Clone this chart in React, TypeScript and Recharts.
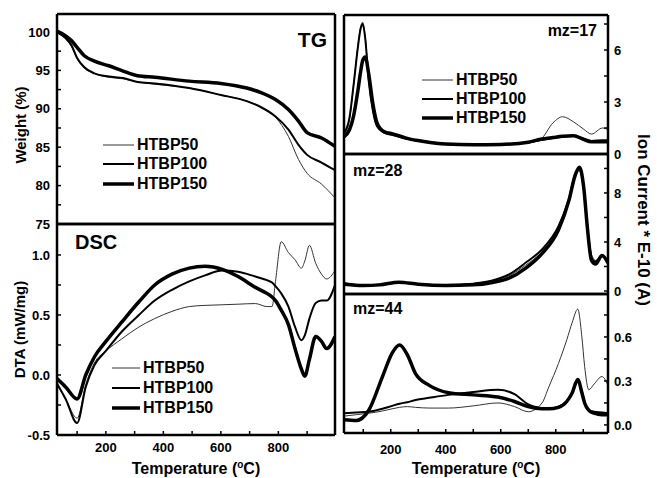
import React from 'react';
import { LineChart, Line, XAxis, YAxis, Legend } from 'recharts';

const W = 657;
const H = 478;
const FONT = '"Liberation Sans", Arial, sans-serif';

// TG panel (weight %)
const tgTemps = [30, 60, 80, 100, 125, 160, 210, 260, 310, 370, 490, 600, 690, 740, 790, 835, 870, 900, 950, 997];
const tg50 = [100.0, 99.1, 98.1, 96.5, 95.3, 94.6, 94.1, 93.9, 93.5, 93.2, 92.7, 91.8, 91.0, 90.2, 88.9, 86.4, 83.4, 81.6, 80.2, 78.4];
const tg100 = [100.0, 99.2, 98.3, 96.6, 95.4, 94.6, 94.2, 94.0, 93.5, 93.3, 92.7, 91.8, 91.0, 90.2, 89.0, 87.3, 85.3, 84.0, 83.0, 82.0];
const tg150 = [100.1, 99.5, 98.9, 98.0, 96.9, 96.2, 95.6, 94.9, 94.3, 94.1, 93.6, 93.3, 92.7, 92.1, 91.2, 89.9, 88.4, 86.9, 86.2, 85.1];

// DSC panel (mW/mg)
const dscTemps = [30, 60, 100, 130, 160, 200, 255, 315, 370, 430, 490, 545, 605, 660, 720, 760, 778, 790, 810, 835, 858, 880, 892, 908, 930, 950, 968, 997];
const dsc50 = [-0.08, -0.2, -0.36, -0.08, 0.1, 0.2, 0.3, 0.4, 0.47, 0.53, 0.57, 0.58, 0.585, 0.59, 0.595, 0.57, 0.57, 0.78, 1.11, 1.02, 0.96, 0.89, 0.95, 1.08, 0.93, 0.84, 0.8, 0.87];
const dsc100 = [-0.07, -0.2, -0.4, -0.1, 0.08, 0.2, 0.36, 0.5, 0.62, 0.71, 0.78, 0.83, 0.87, 0.86, 0.82, 0.79, 0.77, 0.74, 0.68, 0.57, 0.4, 0.29, 0.33, 0.47, 0.6, 0.62, 0.62, 0.75];
const dsc150 = [-0.03, -0.1, -0.2, 0.0, 0.15, 0.28, 0.44, 0.61, 0.75, 0.84, 0.89, 0.905, 0.88, 0.82, 0.73, 0.68, 0.65, 0.62, 0.54, 0.42, 0.22, 0.05, -0.01, 0.13, 0.32, 0.28, 0.22, 0.32];

// mz=17
const m17Temps = [30, 50, 65, 80, 90, 98, 107, 120, 135, 150, 175, 210, 260, 320, 400, 500, 600, 700, 745, 790, 825, 865, 900, 930, 970, 990];
const m17a = [1.1, 2.0, 4.0, 6.2, 7.3, 7.6, 6.8, 4.3, 2.5, 1.6, 1.2, 1.05, 0.85, 0.7, 0.57, 0.53, 0.55, 0.65, 0.85, 1.8, 2.15, 1.85, 1.45, 1.15, 1.5, 1.4];
const m17b = [1.2, 2.1, 4.0, 6.1, 7.2, 7.5, 6.7, 4.2, 2.5, 1.6, 1.25, 1.1, 0.88, 0.72, 0.58, 0.53, 0.55, 0.66, 0.8, 0.92, 1.0, 1.05, 0.9, 0.75, 0.8, 0.8];
const m17c = [1.0, 1.4, 2.2, 3.6, 4.7, 5.4, 5.6, 4.6, 2.9, 1.8, 1.3, 1.15, 0.9, 0.72, 0.57, 0.53, 0.55, 0.68, 0.85, 0.95, 1.02, 1.05, 0.85, 0.7, 0.7, 0.7];

// mz=28
const m28Temps = [30, 100, 160, 230, 300, 400, 500, 570, 630, 690, 750, 810, 848, 870, 886, 902, 914, 930, 945, 968, 990];
const m28a = [0.7, 0.5, 0.55, 0.7, 0.55, 0.48, 0.6, 0.85, 1.25, 2.1, 3.2, 5.1, 7.3, 9.3, 9.8, 8.2, 5.6, 3.0, 2.5, 2.8, 2.1];
const m28b = [0.6, 0.45, 0.5, 0.7, 0.55, 0.48, 0.6, 0.85, 1.35, 2.3, 3.4, 5.3, 7.5, 9.5, 10.0, 8.3, 5.5, 2.7, 2.4, 2.9, 2.4];
const m28c = [0.55, 0.45, 0.5, 0.72, 0.55, 0.45, 0.5, 0.7, 1.05, 1.85, 3.05, 5.0, 7.4, 9.4, 10.1, 8.4, 5.4, 2.5, 2.2, 2.9, 2.3];

// mz=44
const m44Temps = [30, 75, 120, 170, 205, 232, 260, 290, 340, 410, 500, 590, 650, 700, 750, 775, 810, 840, 860, 880, 895, 905, 920, 940, 968, 990];
const m44a = [0.06, 0.07, 0.08, 0.095, 0.11, 0.12, 0.125, 0.12, 0.115, 0.115, 0.13, 0.15, 0.125, 0.09, 0.15, 0.26, 0.42, 0.58, 0.7, 0.79, 0.6, 0.4, 0.24, 0.28, 0.33, 0.27];
const m44b = [0.08, 0.085, 0.09, 0.11, 0.13, 0.145, 0.155, 0.17, 0.185, 0.205, 0.225, 0.24, 0.21, 0.14, 0.115, 0.11, 0.125, 0.16, 0.22, 0.3, 0.23, 0.15, 0.1, 0.09, 0.085, 0.08];
const m44c = [0.035, 0.03, 0.1, 0.33, 0.49, 0.545, 0.48, 0.35, 0.27, 0.22, 0.205, 0.19, 0.16, 0.125, 0.11, 0.11, 0.12, 0.16, 0.22, 0.31, 0.22, 0.15, 0.1, 0.08, 0.07, 0.07];

const xTicks = [100, 200, 300, 400, 500, 600, 700, 800, 900];

const SERIES = [
  { key: 'a', name: 'HTBP50', width: 1, color: '#333' },
  { key: 'b', name: 'HTBP100', width: 2, color: '#000' },
  { key: 'c', name: 'HTBP150', width: 3.5, color: '#000' },
];

const toRows = (t: number[], a: number[], b: number[], c: number[]) =>
  t.map((x, i) => ({ t: x, a: a[i], b: b[i], c: c[i] }));

const isMult = (v: number, step: number) => Math.abs(v / step - Math.round(v / step)) < 1e-6;

const axisLine = { stroke: '#000', strokeWidth: 2.5 };
const tickLine = { stroke: '#000', strokeWidth: 1.5 };
const tickText = { fill: '#000', fontSize: 13, fontWeight: 700, fontFamily: FONT };
const textStyle: React.CSSProperties = { fontFamily: FONT, fontWeight: 700, fill: '#000' };

const legendContent = (lineLen: number, rowH: number) => (props: any) => {
  const items = [...(props.payload || [])].sort(
    (p: any, q: any) => SERIES.findIndex((s) => s.name === p.value) - SERIES.findIndex((s) => s.name === q.value)
  );
  return (
    <div>
      {items.map((p: any) => {
        const s = SERIES.find((x) => x.name === p.value) || SERIES[0];
        return (
          <div key={p.value} style={{ display: 'flex', alignItems: 'center', height: rowH }}>
            <svg width={lineLen} height={8}>
              <line x1={0} y1={4} x2={lineLen} y2={4} stroke={s.color} strokeWidth={s.width} />
            </svg>
            <span style={{ marginLeft: 3, fontFamily: FONT, fontWeight: 700, fontSize: 16, lineHeight: 1, color: '#000' }}>
              {p.value}
            </span>
          </div>
        );
      })}
    </div>
  );
};

const yTitle = (text: string, cx: number, angle: number, dy: number, size: number) => (p: any) => {
  const vb = p.viewBox;
  const cy = vb.y + vb.height / 2 + dy;
  return (
    <text x={cx} y={cy} transform={`rotate(${angle} ${cx} ${cy})`} textAnchor="middle" dominantBaseline="central" fontSize={size} style={textStyle}>
      {text}
    </text>
  );
};

const xTitle = (p: any) => {
  const vb = p.viewBox;
  const cx = vb.x + vb.width / 2;
  return (
    <text x={cx} y={474} textAnchor="middle" fontSize={16} style={textStyle}>
      <tspan>Temperature (</tspan>
      <tspan dy={-6} fontSize={10}>o</tspan>
      <tspan dy={6}>C)</tspan>
    </text>
  );
};

type PanelProps = {
  rows: any[];
  rect: { l: number; r: number; t: number; b: number };
  xDomain: [number, number];
  yDomain: [number, number];
  yTicks: number[];
  yFmt: (v: number) => string;
  side: 'left' | 'right';
  xLabels?: boolean;
  xMargin?: number;
  topTicks?: boolean;
  legend?: { left: number; top: number; len: number; rowH: number };
  yLabel?: (p: any) => React.ReactNode;
};

// axes are 1px thick boxes so that the plot area sits exactly on rect
const Panel = ({ rows, rect, xDomain, yDomain, yTicks, yFmt, side, xLabels, xMargin, topTicks, legend, yLabel }: PanelProps) => (
  <div style={{ position: 'absolute', left: 0, top: 0 }}>
    <LineChart
      width={W}
      height={H}
      data={rows}
      margin={{ top: rect.t - 1, left: rect.l - 1, right: W - rect.r - 1, bottom: H - rect.b - 1 }}
    >
      <XAxis
        xAxisId="b"
        dataKey="t"
        type="number"
        orientation="bottom"
        domain={xDomain}
        allowDataOverflow
        height={1}
        ticks={xTicks}
        interval={0}
        tickSize={-4}
        tickMargin={xMargin ?? 12}
        tick={xLabels ? tickText : false}
        tickFormatter={(v: number) => (v % 200 === 0 ? String(v) : '')}
        axisLine={axisLine}
        tickLine={tickLine}
        label={xLabels ? xTitle : undefined}
      />
      <XAxis
        xAxisId="t"
        dataKey="t"
        type="number"
        orientation="top"
        domain={xDomain}
        allowDataOverflow
        height={1}
        ticks={xTicks}
        interval={0}
        tickSize={-4}
        tick={false}
        axisLine={axisLine}
        tickLine={topTicks ? tickLine : false}
      />
      <YAxis
        yAxisId="l"
        orientation="left"
        type="number"
        domain={yDomain}
        allowDataOverflow
        width={1}
        ticks={yTicks}
        interval={0}
        tickSize={-4}
        tickMargin={11}
        tick={side === 'left' ? tickText : false}
        tickFormatter={yFmt}
        axisLine={axisLine}
        tickLine={side === 'left' ? tickLine : false}
        label={side === 'left' ? yLabel : undefined}
      />
      <YAxis
        yAxisId="r"
        orientation="right"
        type="number"
        domain={yDomain}
        allowDataOverflow
        width={1}
        ticks={yTicks}
        interval={0}
        tickSize={-4}
        tickMargin={10}
        tick={side === 'right' ? tickText : false}
        tickFormatter={yFmt}
        axisLine={axisLine}
        tickLine={side === 'right' ? tickLine : false}
        label={side === 'right' ? yLabel : undefined}
      />
      {SERIES.map((s) => (
        <Line
          key={s.key}
          xAxisId="b"
          yAxisId={side === 'left' ? 'l' : 'r'}
          type="monotone"
          dataKey={s.key}
          name={s.name}
          stroke={s.color}
          strokeWidth={s.width}
          dot={false}
          activeDot={false}
          isAnimationActive={false}
        />
      ))}
      {legend && (
        <Legend
          layout="vertical"
          align="center"
          verticalAlign="middle"
          content={legendContent(legend.len, legend.rowH)}
          wrapperStyle={{ left: legend.left, top: legend.top, width: 150, height: 60 }}
        />
      )}
    </LineChart>
  </div>
);

const title = (text: string, pos: React.CSSProperties, size: number) => (
  <div
    style={{
      position: 'absolute',
      fontFamily: FONT,
      fontWeight: 700,
      fontSize: size,
      lineHeight: 1,
      color: '#000',
      whiteSpace: 'nowrap',
      ...pos,
    }}
  >
    {text}
  </div>
);

const leftX: [number, number] = [30, 997];
const rightX: [number, number] = [30, 990];

export default function App() {
  return (
    <div style={{ position: 'absolute', left: 0, top: 0, width: W, height: H, background: '#fff', overflow: 'hidden' }}>
      <Panel
        rows={toRows(tgTemps, tg50, tg100, tg150)}
        rect={{ l: 57, r: 335, t: 14, b: 224 }}
        xDomain={leftX}
        yDomain={[75, 102.34]}
        yTicks={[75, 77.5, 80, 82.5, 85, 87.5, 90, 92.5, 95, 97.5, 100]}
        yFmt={(v) => (isMult(v, 5) ? String(v) : '')}
        side="left"
        legend={{ left: 103, top: 135, len: 31, rowH: 19.5 }}
        yLabel={yTitle('Weight  (%)', 20, -90, 6, 15)}
      />
      <Panel
        rows={toRows(dscTemps, dsc50, dsc100, dsc150)}
        rect={{ l: 57, r: 335, t: 224, b: 435 }}
        xDomain={leftX}
        yDomain={[-0.5, 1.258]}
        yTicks={[-0.5, -0.25, 0, 0.25, 0.5, 0.75, 1.0]}
        yFmt={(v) => (isMult(v, 0.5) ? v.toFixed(1) : '')}
        side="left"
        xLabels
        xMargin={12}
        topTicks
        legend={{ left: 112, top: 358, len: 28, rowH: 20 }}
        yLabel={yTitle('DTA (mW/mg)', 19, -90, 0, 15)}
      />
      <Panel
        rows={toRows(m17Temps, m17a, m17b, m17c)}
        rect={{ l: 344, r: 608, t: 15, b: 154 }}
        xDomain={rightX}
        yDomain={[0, 8.02]}
        yTicks={[0, 1.5, 3, 4.5, 6, 7.5]}
        yFmt={(v) => (isMult(v, 3) ? String(v) : '')}
        side="right"
        legend={{ left: 422, top: 70, len: 31, rowH: 19 }}
      />
      <Panel
        rows={toRows(m28Temps, m28a, m28b, m28c)}
        rect={{ l: 344, r: 608, t: 154, b: 294 }}
        xDomain={rightX}
        yDomain={[-0.245, 11.18]}
        yTicks={[0, 2, 4, 6, 8, 10]}
        yFmt={(v) => (isMult(v, 4) ? String(v) : '')}
        side="right"
        topTicks
        yLabel={yTitle('Ion Current * E-10 (A)', 643, 90, -4, 17)}
      />
      <Panel
        rows={toRows(m44Temps, m44a, m44b, m44c)}
        rect={{ l: 344, r: 608, t: 294, b: 433 }}
        xDomain={rightX}
        yDomain={[-0.055, 0.893]}
        yTicks={[0, 0.15, 0.3, 0.45, 0.6, 0.75]}
        yFmt={(v) => (isMult(v, 0.3) ? v.toFixed(1) : '')}
        side="right"
        xLabels
        xMargin={16}
        topTicks
      />
      {title('TG', { right: W - 327, top: 29 }, 21)}
      {title('DSC', { left: 75, top: 232 }, 20)}
      {title('mz=17', { right: W - 597, top: 23 }, 16)}
      {title('mz=28', { left: 353, top: 163 }, 16)}
      {title('mz=44', { left: 353, top: 301 }, 16)}
    </div>
  );
}
